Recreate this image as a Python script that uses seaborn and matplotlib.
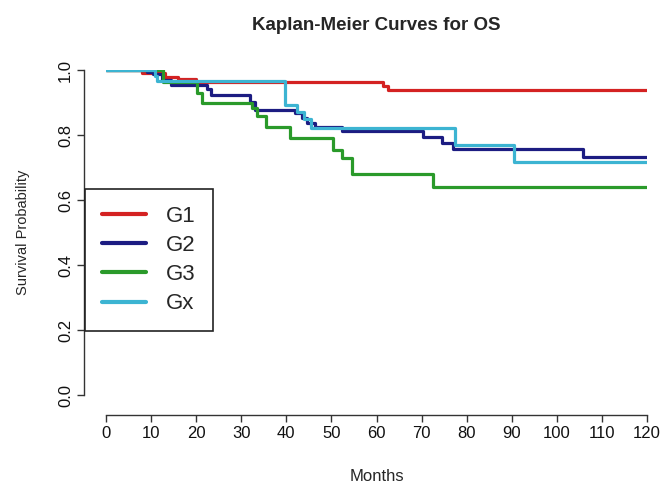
import matplotlib
matplotlib.use("Agg")
import matplotlib.pyplot as plt
import seaborn as sns
import pandas as pd

# ---- data ----
groups = ["G1", "G2", "G3", "Gx"]
g1_months = [0, 8, 13, 16, 20, 61.5, 62.5, 120]
g1_surv = [1.0, 0.99, 0.98, 0.972, 0.963, 0.952, 0.94, 0.94]
g2_months = [0, 9, 10.5, 12.5, 14.5, 22.3, 23.3, 32, 33, 42, 43.4, 44.5, 46.4, 52.3, 70.3, 74.5, 77, 105.8, 120]
g2_surv = [1.0, 0.994, 0.988, 0.97, 0.955, 0.943, 0.923, 0.902, 0.877, 0.867, 0.851, 0.836, 0.826, 0.812, 0.793, 0.774, 0.756, 0.731, 0.731]
g3_months = [0, 12.7, 20.1, 21.2, 32.3, 33.4, 35.6, 40.9, 50.4, 52.3, 54.5, 72.6, 120]
g3_surv = [1.0, 0.964, 0.928, 0.897, 0.882, 0.858, 0.826, 0.79, 0.754, 0.728, 0.68, 0.641, 0.641]
gx_months = [0, 10.8, 11.3, 39.7, 42.3, 44, 45.5, 77.4, 90.5, 120]
gx_surv = [1.0, 0.982, 0.965, 0.893, 0.87, 0.848, 0.822, 0.769, 0.718, 0.718]
x_ticks = list(range(0, 121, 10))
y_ticks = [0.0, 0.2, 0.4, 0.6, 0.8, 1.0]

colors = ["#d42222", "#1c1c82", "#2a9a2a", "#3cb4d2"]

frames = []
for g, t, s in zip(groups, [g1_months, g2_months, g3_months, gx_months],
                   [g1_surv, g2_surv, g3_surv, gx_surv]):
    frames.append(pd.DataFrame({"Months": t, "Survival": s, "Group": g}))
df = pd.concat(frames, ignore_index=True)

sns.set_style("ticks")
plt.rcParams["font.family"] = ["Liberation Sans", "DejaVu Sans"]

W, H = 666, 490
fig = plt.figure(figsize=(W / 100, H / 100), dpi=100)
ax = fig.add_axes([106 / W, (H - 395) / H, 541 / W, 325 / H])

sns.lineplot(data=df, x="Months", y="Survival", hue="Group", hue_order=groups,
             palette=colors, estimator=None, drawstyle="steps-post",
             linewidth=2.3, legend=False, ax=ax)

ax.set_xlim(0, 120)
ax.set_ylim(0, 1)
ax.set_xticks(x_ticks)
ax.set_xticklabels([str(v) for v in x_ticks])
ax.set_yticks(y_ticks)
ax.set_yticklabels([f"{v:.1f}" for v in y_ticks])

for side in ["top", "right"]:
    ax.spines[side].set_visible(False)
ax.spines["left"].set_position(("outward", 22 * 0.72))
ax.spines["bottom"].set_position(("outward", 20 * 0.72))
ax.spines["left"].set_bounds(0, 1)
ax.spines["bottom"].set_bounds(0, 120)
for side in ["left", "bottom"]:
    ax.spines[side].set_linewidth(1.0)
    ax.spines[side].set_color("#333333")
ax.tick_params(axis="both", length=5, width=1.0, color="#333333", pad=3,
               labelcolor="#111111", labelsize=12)
ax.tick_params(axis="y", labelrotation=90)
for lab in ax.get_yticklabels():
    lab.set_verticalalignment("center")

ax.set_xlabel("Months", fontsize=12, labelpad=20)
ax.set_ylabel("Survival Probability", fontsize=10.5, labelpad=20)
ax.set_title("Kaplan-Meier Curves for OS", fontsize=13.5, fontweight="bold", pad=29)

handles = ax.get_lines()[:4]
leg = ax.legend(handles, groups, loc="upper left",
                bbox_to_anchor=(85 / W, 1 - 189 / H), bbox_transform=fig.transFigure,
                borderaxespad=0, frameon=True, fancybox=False, framealpha=1,
                edgecolor="#222222", fontsize=16, handlelength=2.0,
                handletextpad=0.9, labelspacing=0.37, borderpad=0.75)
leg.get_frame().set_linewidth(1.2)
for line in leg.get_lines():
    line.set_linewidth(3)

fig.savefig("out.png", dpi=100)
